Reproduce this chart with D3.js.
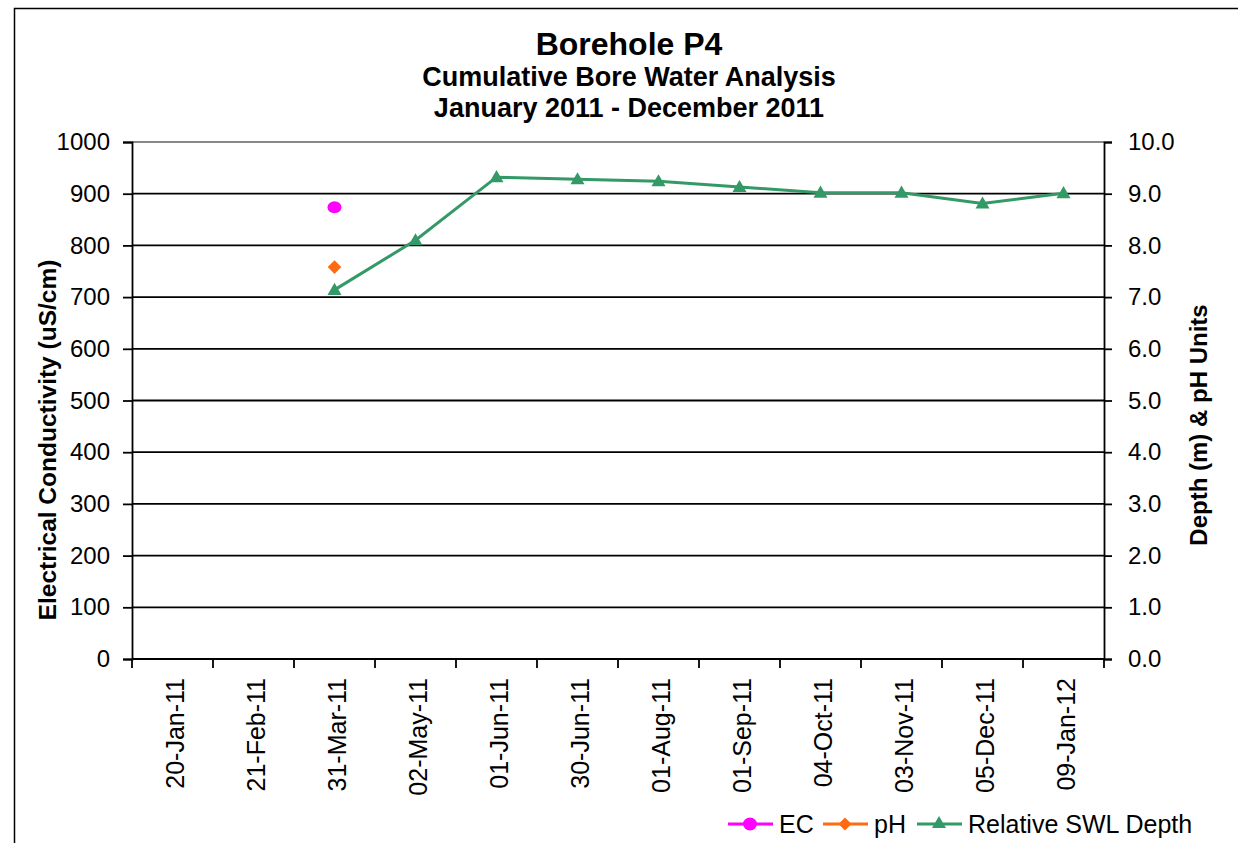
<!DOCTYPE html>
<html>
<head>
<meta charset="utf-8">
<script src="https://cdn.jsdelivr.net/npm/d3@7"></script>
<style>
  body { margin: 0; background: #fff; }
  text { font-family: "Liberation Sans", Arial, sans-serif; fill: #000; }
</style>
</head>
<body>
<svg id="chart" width="1238" height="843"></svg>
<script>
'use strict'

// sampling dates (category axis)
const dates = ['20-Jan-11', '21-Feb-11', '31-Mar-11', '02-May-11', '01-Jun-11', '30-Jun-11',
               '01-Aug-11', '01-Sep-11', '04-Oct-11', '03-Nov-11', '05-Dec-11', '09-Jan-12']

// EC (uS/cm), left axis -- null where not sampled
const ecValues = [null, null, 874, null, null, null, null, null, null, null, null, null]
// pH, right axis
const phValues = [null, null, 7.58, null, null, null, null, null, null, null, null, null]
// relative standing water level depth (m), right axis
const swlValues = [null, null, 7.14, 8.1, 9.32, 9.28, 9.24, 9.13, 9.02, 9.02, 8.81, 9.01]

const leftTicks = [0, 100, 200, 300, 400, 500, 600, 700, 800, 900, 1000]
const rightTicks = [0, 1, 2, 3, 4, 5, 6, 7, 8, 9, 10]

const margins = {left: 132, right: 134, top: 142, bottom: 184}
const width = 1238 - margins.left - margins.right
const height = 843 - margins.top - margins.bottom

const svg = d3.select('#chart')

// outer frame (only top & left visible)
svg.append('path')
	.attr('d', 'M14.5,843 L14.5,8.5 L1238,8.5')
	.attr('fill', 'none')
	.attr('stroke', '#000')
	.attr('stroke-width', 1.5)

// titles
const titles = [
	{t: 'Borehole P4', y: 55, s: 32},
	{t: 'Cumulative Bore Water Analysis', y: 86, s: 27},
	{t: 'January 2011 - December 2011', y: 117, s: 27}
]
svg.selectAll('.title').data(titles).enter()
	.append('text')
	.attr('class', 'title')
	.attr('x', 629)
	.attr('y', d => d.y)
	.attr('text-anchor', 'middle')
	.style('font-weight', 'bold')
	.style('font-size', d => d.s + 'px')
	.text(d => d.t)

const x = d3.scaleBand().domain(dates).range([0, width])
const yLeft = d3.scaleLinear().domain([0, 1000]).range([height, 0])
const yRight = d3.scaleLinear().domain([0, 10]).range([height, 0])

const g = svg.append('g').attr('transform', 'translate(' + margins.left + ',' + margins.top + ')')

// gridlines
g.selectAll('.grid').data(leftTicks.filter(d => d > 0)).enter()
	.append('line')
	.attr('x1', 0).attr('x2', width)
	.attr('y1', d => yLeft(d)).attr('y2', d => yLeft(d))
	.attr('stroke', d => d === 1000 ? '#888' : '#000')
	.attr('stroke-width', 1.8)

// left axis
const axisL = g.append('g')
	.call(d3.axisLeft(yLeft).tickValues(leftTicks).tickSize(9).tickPadding(13).tickFormat(d3.format('d')))
axisL.select('.domain').attr('stroke-width', 1.8)
axisL.selectAll('.tick line').attr('stroke-width', 1.8)
axisL.selectAll('text').style('font-size', '24px').attr('font-family', null)

// right axis
const axisR = g.append('g')
	.attr('transform', 'translate(' + width + ',0)')
	.call(d3.axisRight(yRight).tickValues(rightTicks).tickSize(8).tickPadding(16).tickFormat(d3.format('.1f')))
axisR.select('.domain').attr('stroke-width', 1.8)
axisR.selectAll('.tick line').attr('stroke-width', 1.8)
axisR.selectAll('text').style('font-size', '24px').attr('font-family', null)

// x axis with ticks between categories
const axisX = g.append('g').attr('transform', 'translate(0,' + height + ')')
axisX.append('line')
	.attr('x1', 0).attr('x2', width)
	.attr('stroke', '#000').attr('stroke-width', 1.8)
const bounds = dates.map(d => x(d)).concat([width])
axisX.selectAll('.xtick').data(bounds).enter()
	.append('line')
	.attr('x1', d => d).attr('x2', d => d)
	.attr('y1', 0).attr('y2', 9)
	.attr('stroke', '#000').attr('stroke-width', 1.8)
axisX.selectAll('.xlabel').data(dates).enter()
	.append('text')
	.attr('transform', d => 'translate(' + (x(d) + x.bandwidth() / 2 + 11) + ',19) rotate(-90)')
	.attr('text-anchor', 'end')
	.style('font-size', '25px')
	.text(d => d)

// axis titles
svg.append('text')
	.attr('transform', 'translate(56,440) rotate(-90)')
	.attr('text-anchor', 'middle')
	.style('font-size', '24.5px').style('font-weight', 'bold')
	.text('Electrical Conductivity (uS/cm)')
svg.append('text')
	.attr('transform', 'translate(1207,425) rotate(-90)')
	.attr('text-anchor', 'middle')
	.style('font-size', '24px').style('font-weight', 'bold')
	.text('Depth (m) & pH Units')

const cx = i => x(dates[i]) + x.bandwidth() / 2

const colEC = '#ff00ff', colPH = '#ff6a13', colSWL = '#339966'

// diamond marker wider than d3's stock one
const wideDiamond = {
	draw(ctx, size) {
		const r = Math.sqrt(size / 2)
		ctx.moveTo(0, -r)
		ctx.lineTo(r, 0)
		ctx.lineTo(0, r)
		ctx.lineTo(-r, 0)
		ctx.closePath()
	}
}

// SWL line
const swlPts = swlValues.map((v, i) => ({i, v})).filter(d => d.v !== null)
g.append('path')
	.datum(swlPts)
	.attr('fill', 'none')
	.attr('stroke', colSWL)
	.attr('stroke-width', 3)
	.attr('d', d3.line().x(d => cx(d.i)).y(d => yRight(d.v)))

const tri = d3.symbol().type(d3.symbolTriangle).size(85)
g.selectAll('.swl').data(swlPts).enter()
	.append('path')
	.attr('transform', d => 'translate(' + cx(d.i) + ',' + (yRight(d.v) + 1) + ')')
	.attr('d', tri)
	.attr('fill', colSWL)

// EC points
g.selectAll('.ec').data(ecValues.map((v, i) => ({i, v})).filter(d => d.v !== null)).enter()
	.append('ellipse')
	.attr('cx', d => cx(d.i)).attr('cy', d => yLeft(d.v))
	.attr('rx', 7).attr('ry', 6)
	.attr('fill', colEC)

// pH points
g.selectAll('.ph').data(phValues.map((v, i) => ({i, v})).filter(d => d.v !== null)).enter()
	.append('path')
	.attr('transform', d => 'translate(' + cx(d.i) + ',' + yRight(d.v) + ')')
	.attr('d', d3.symbol().type(wideDiamond).size(92))
	.attr('fill', colPH)

// legend
const legend = [
	{name: 'EC', color: colEC, x: 728, mark: 'circle'},
	{name: 'pH', color: colPH, x: 823, mark: 'diamond'},
	{name: 'Relative SWL Depth', color: colSWL, x: 917, mark: 'triangle'}
]
const lg = svg.selectAll('.legend').data(legend).enter()
	.append('g')
	.attr('transform', d => 'translate(' + d.x + ',824)')
lg.append('line')
	.attr('x1', 0).attr('x2', 45)
	.attr('stroke', d => d.color).attr('stroke-width', 3)
lg.each(function(d) {
	const s = d3.select(this)
	if (d.mark === 'circle')
		s.append('ellipse').attr('cx', 22).attr('rx', 7).attr('ry', 6.5).attr('fill', d.color)
	else if (d.mark === 'diamond')
		s.append('path').attr('transform', 'translate(22,0)').attr('d', d3.symbol().type(wideDiamond).size(85)).attr('fill', d.color)
	else
		s.append('path').attr('transform', 'translate(22,0)').attr('d', d3.symbol().type(d3.symbolTriangle).size(85)).attr('fill', d.color)
})
lg.append('text')
	.attr('x', 51).attr('y', 9)
	.style('font-size', '25px')
	.text(d => d.name)
</script>
</body>
</html>
